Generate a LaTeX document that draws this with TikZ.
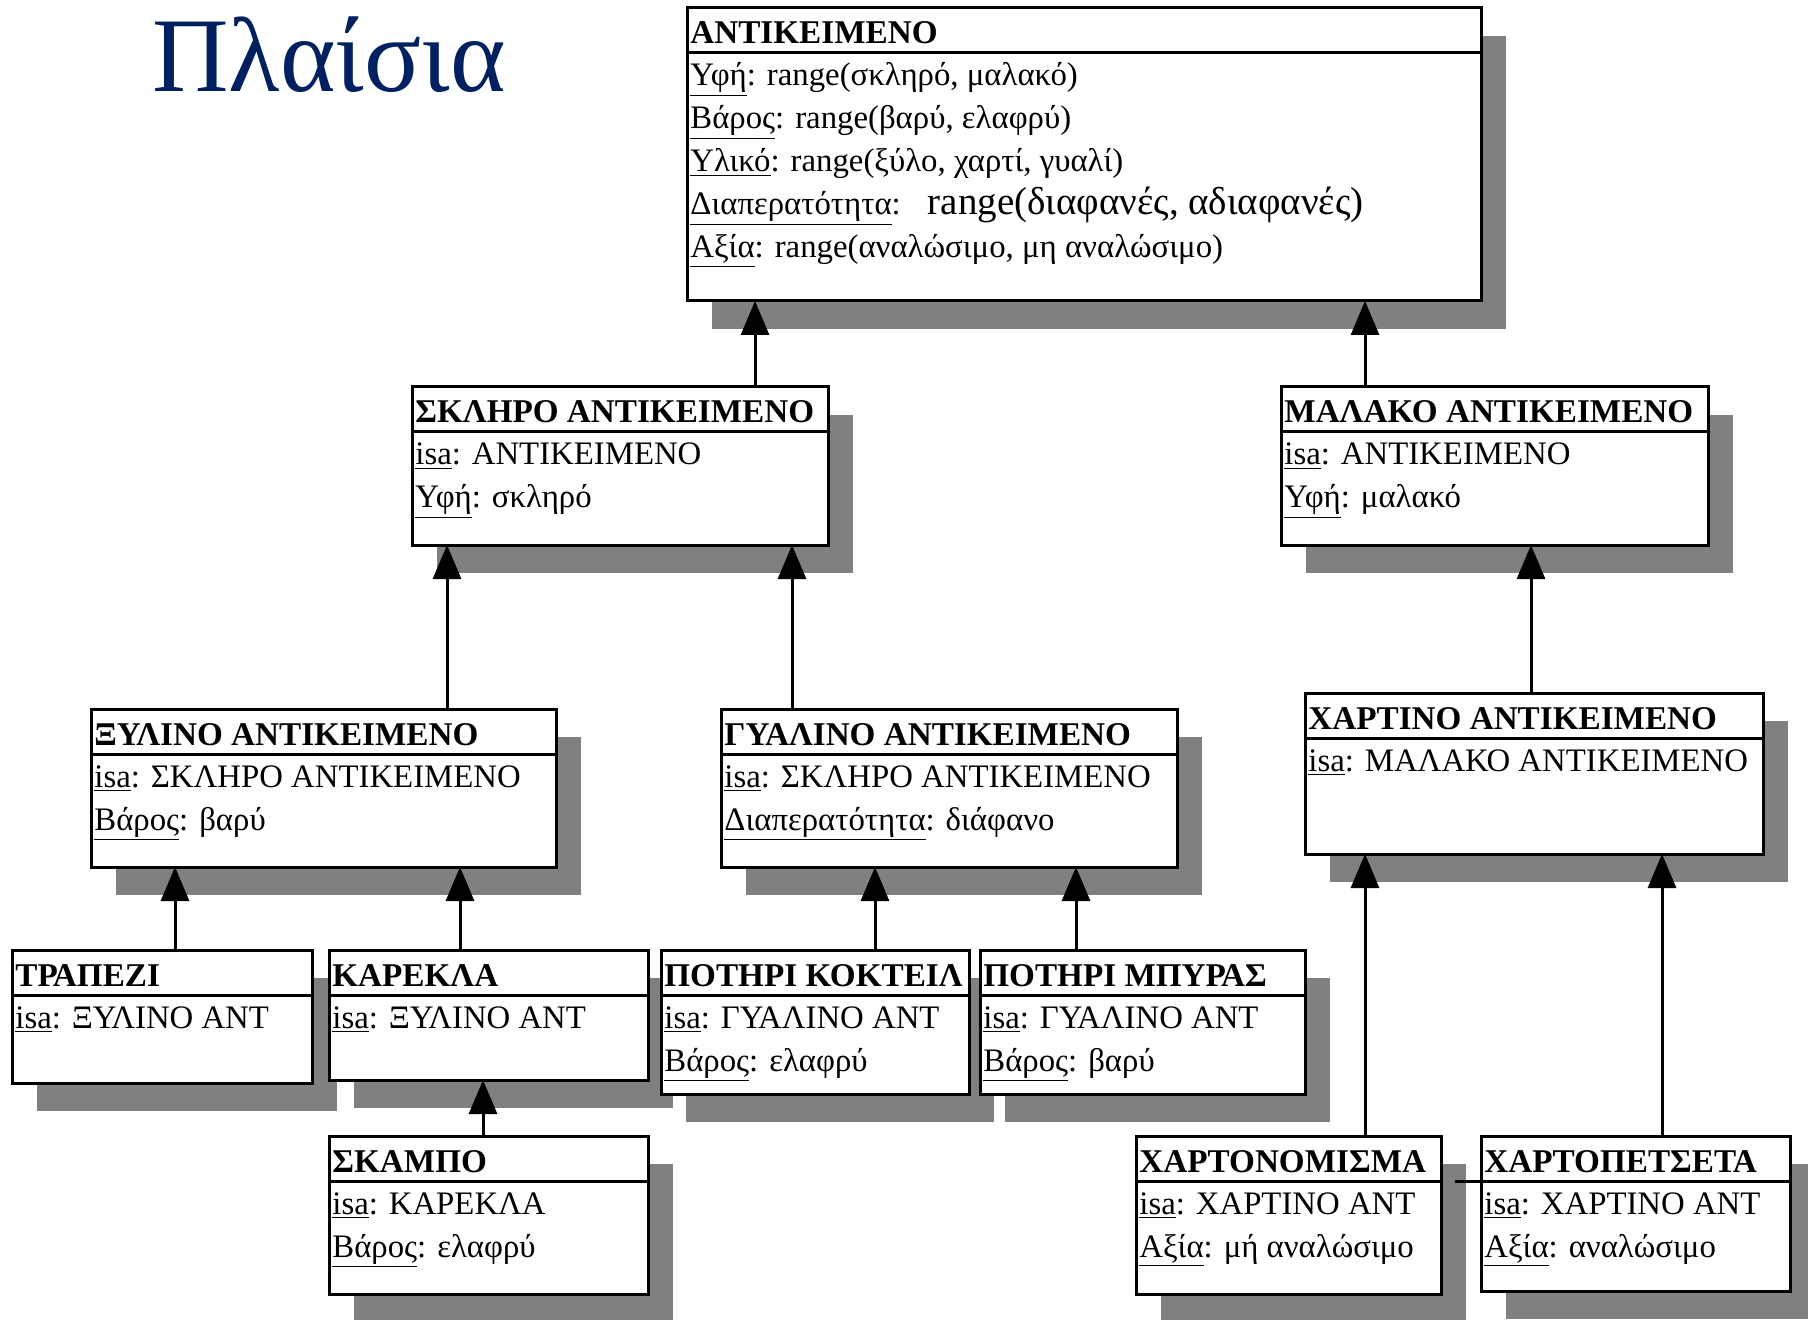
\documentclass[tikz,border=0pt]{standalone}
\usepackage{fontspec}
\setmainfont{Liberation Serif}
\usepackage{tikz}
\usetikzlibrary{arrows.meta,calc,fit,shadows}
\definecolor{titleblue}{RGB}{0,32,96}
\definecolor{shadowgray}{RGB}{128,128,128}
% box: name, x1, y1, x2, y2, title
\newcommand{\frameobj}[6]{%
  \node[framebox, fit={(#2,#3) (#4,#5)}] (#1) {};
  \draw[headrule] ($(#1.north west)+(0,45)$) -- ($(#1.north east)+(0,45)$);
  \node[headtext] (#1-t) at ($(#1.north west)+(3,36)$) {#6};
}
% slot: box, row, key, value
\newcommand{\slotline}[4]{%
  \node[slottext] (#1-#2) at ($(#1.north west)+(3,35+43*#2)$) {\underline{#3}: #4};
}

\begin{document}
\begin{tikzpicture}[x=0.5pt, y=-0.5pt,
    framebox/.style={draw, line width=1.5pt, fill=white, inner sep=0pt, outer sep=0pt,
      drop shadow={shadow xshift=12.5pt, shadow yshift=-14pt, fill=shadowgray, opacity=1}},
    headrule/.style={line width=1.5pt},
    headtext/.style={anchor=base west, inner sep=0pt, font=\bfseries\fontsize{16.6}{20}\selectfont},
    slottext/.style={anchor=base west, inner sep=0pt, font=\fontsize{16.4}{20}\selectfont},
    isaarrow/.style={line width=1.5pt, -{Triangle[length=17pt,width=14pt]}}]
    \useasboundingbox (0,0) rectangle (1808,1320);

    \node[anchor=base west, inner sep=0pt, text=titleblue, font=\fontsize{53}{60}\selectfont] (title) at (152,92) {Πλαίσια};

    \frameobj{ant}{687}{8}{1481}{301}{ΑΝΤΙΚΕΙΜΕΝΟ}
    \slotline{ant}{1}{Υφή}{range(σκληρό, μαλακό)}
    \slotline{ant}{2}{Βάρος}{range(βαρύ, ελαφρύ)}
    \slotline{ant}{3}{Υλικό}{range(ξύλο, χαρτί, γυαλί)}
    \slotline{ant}{4}{Διαπερατότητα}{\hspace{8pt}{\fontsize{19.5}{22}\selectfont range(διαφανές, αδιαφανές)}}
    \slotline{ant}{5}{Αξία}{range(αναλώσιμο, μη αναλώσιμο)}

    \frameobj{skl}{412}{387}{828}{545}{ΣΚΛΗΡΟ ΑΝΤΙΚΕΙΜΕΝΟ}
    \slotline{skl}{1}{isa}{ΑΝΤΙΚΕΙΜΕΝΟ}
    \slotline{skl}{2}{Υφή}{σκληρό}

    \frameobj{mal}{1281}{387}{1708}{545}{ΜΑΛΑΚΟ ΑΝΤΙΚΕΙΜΕΝΟ}
    \slotline{mal}{1}{isa}{ΑΝΤΙΚΕΙΜΕΝΟ}
    \slotline{mal}{2}{Υφή}{μαλακό}

    \frameobj{xyl}{91}{709}{556}{867}{ΞΥΛΙΝΟ ΑΝΤΙΚΕΙΜΕΝΟ}
    \slotline{xyl}{1}{isa}{ΣΚΛΗΡΟ ΑΝΤΙΚΕΙΜΕΝΟ}
    \slotline{xyl}{2}{Βάρος}{βαρύ}

    \frameobj{gya}{721}{709}{1177}{867}{ΓΥΑΛΙΝΟ ΑΝΤΙΚΕΙΜΕΝΟ}
    \slotline{gya}{1}{isa}{ΣΚΛΗΡΟ ΑΝΤΙΚΕΙΜΕΝΟ}
    \slotline{gya}{2}{Διαπερατότητα}{διάφανο}

    \frameobj{xar}{1305}{693}{1763}{854}{ΧΑΡΤΙΝΟ ΑΝΤΙΚΕΙΜΕΝΟ}
    \slotline{xar}{1}{isa}{ΜΑΛΑΚΟ ΑΝΤΙΚΕΙΜΕΝΟ}

    \frameobj{tra}{12}{950}{312}{1083}{ΤΡΑΠΕΖΙ}
    \slotline{tra}{1}{isa}{ΞΥΛΙΝΟ ΑΝΤ}

    \frameobj{kar}{329}{950}{648}{1080}{ΚΑΡΕΚΛΑ}
    \slotline{kar}{1}{isa}{ΞΥΛΙΝΟ ΑΝΤ}

    \frameobj{pok}{661}{950}{969}{1094}{ΠΟΤΗΡΙ ΚΟΚΤΕΙΛ}
    \slotline{pok}{1}{isa}{ΓΥΑΛΙΝΟ ΑΝΤ}
    \slotline{pok}{2}{Βάρος}{ελαφρύ}

    \frameobj{pom}{980}{950}{1305}{1094}{ΠΟΤΗΡΙ ΜΠΥΡΑΣ}
    \slotline{pom}{1}{isa}{ΓΥΑΛΙΝΟ ΑΝΤ}
    \slotline{pom}{2}{Βάρος}{βαρύ}

    \frameobj{ska}{329}{1136}{648}{1294}{ΣΚΑΜΠΟ}
    \slotline{ska}{1}{isa}{ΚΑΡΕΚΛΑ}
    \slotline{ska}{2}{Βάρος}{ελαφρύ}

    \frameobj{xno}{1136}{1136}{1441}{1294}{ΧΑΡΤΟΝΟΜΙΣΜΑ}
    \slotline{xno}{1}{isa}{ΧΑΡΤΙΝΟ ΑΝΤ}
    \slotline{xno}{2}{Αξία}{μή αναλώσιμο}

    \frameobj{xpe}{1481}{1136}{1790}{1291}{ΧΑΡΤΟΠΕΤΣΕΤΑ}
    \slotline{xpe}{1}{isa}{ΧΑΡΤΙΝΟ ΑΝΤ}
    \slotline{xpe}{2}{Αξία}{αναλώσιμο}
    \draw[headrule] ($(xpe.north west)+(-26,45)$) -- ($(xpe.north west)+(0,45)$);

    \draw[isaarrow] (skl.north -| 755,0) -- (ant.south -| 755,0);
    \draw[isaarrow] (mal.north -| 1365,0) -- (ant.south -| 1365,0);
    \draw[isaarrow] (xyl.north -| 447,0) -- (skl.south -| 447,0);
    \draw[isaarrow] (gya.north -| 792,0) -- (skl.south -| 792,0);
    \draw[isaarrow] (xar.north -| 1531,0) -- (mal.south -| 1531,0);
    \draw[isaarrow] (tra.north -| 175,0) -- (xyl.south -| 175,0);
    \draw[isaarrow] (kar.north -| 460,0) -- (xyl.south -| 460,0);
    \draw[isaarrow] (pok.north -| 875,0) -- (gya.south -| 875,0);
    \draw[isaarrow] (pom.north -| 1076,0) -- (gya.south -| 1076,0);
    \draw[isaarrow] (ska.north -| 483,0) -- (kar.south -| 483,0);
    \draw[isaarrow] (xno.north -| 1365,0) -- (xar.south -| 1365,0);
    \draw[isaarrow] (xpe.north -| 1662,0) -- (xar.south -| 1662,0);
\end{tikzpicture}
\end{document}
